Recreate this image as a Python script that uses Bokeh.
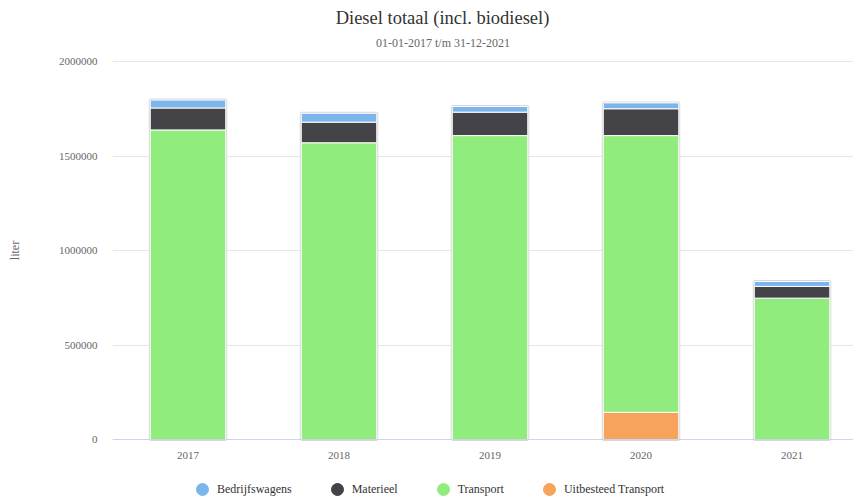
import numpy as np
from bokeh.plotting import figure
from bokeh.models import (Range1d, FixedTicker, NumeralTickFormatter, Label,
                          Legend, LegendItem, ColumnDataSource)
from bokeh.embed import file_html
from bokeh.resources import INLINE

# ---- data ----
years = ["2017", "2018", "2019", "2020", "2021"]
bedrijfswagens = [42000, 47000, 30000, 31000, 26000]
materieel = [116000, 109000, 124000, 142000, 62000]
transport = [1638000, 1570000, 1608000, 1464000, 748000]
uitbesteed = [0, 0, 0, 144000, 0]

series_names = ["Bedrijfswagens", "Materieel", "Transport", "Uitbesteed Transport"]
series_colors = ["#7cb5ec", "#434348", "#90ed7d", "#f7a35c"]
y_ticks = [0, 500000, 1000000, 1500000, 2000000]

title_text = "Diesel totaal (incl. biodiesel)"
subtitle_text = "01-01-2017 t/m 31-12-2021"
y_label = "liter"

FONT = "Liberation Serif"

x = list(range(len(years)))
src = ColumnDataSource(dict(
    x=x,
    b=bedrijfswagens, m=materieel, t=transport, u=uitbesteed,
    total=list(np.array(bedrijfswagens) + np.array(materieel) + np.array(transport) + np.array(uitbesteed)),
))

# frame spans y=3..497 so the axis title is centred at y=250; value 0 at y=439, 2e6 at y=61
y_max = 2000000
px_per_unit = (439 - 61) / y_max
y_lo = -(497 - 439) / px_per_unit
y_hi = y_max + (61 - 3) / px_per_unit

p = figure(width=853, height=497, output_backend="svg", toolbar_location=None,
           x_range=Range1d(-0.5, 4.407), y_range=Range1d(y_lo, y_hi),
           min_border_left=112, min_border_right=0, min_border_top=3,
           min_border_bottom=0, background_fill_color="white",
           border_fill_color="white", outline_line_color=None)

# outline shadow behind stacks
p.vbar(x="x", top="total", bottom=0, width=0.5, source=src, fill_color=None,
       line_color="#d8d8d8", line_width=3)

stack_keys = ["u", "t", "m", "b"]
stack_colors = [series_colors[3], series_colors[2], series_colors[1], series_colors[0]]
p.vbar_stack(stack_keys, x="x", width=0.5, source=src, color=stack_colors,
             line_color="white", line_width=1)

# grid / axes
p.xgrid.grid_line_color = None
p.ygrid.grid_line_color = "#e6e6e6"
p.ygrid.ticker = FixedTicker(ticks=y_ticks)

p.yaxis.ticker = FixedTicker(ticks=y_ticks)
p.yaxis.formatter = NumeralTickFormatter(format="0")
p.yaxis.axis_line_color = None
p.yaxis.major_tick_line_color = None
p.yaxis.minor_tick_line_color = None
p.yaxis.major_tick_out = 0
p.yaxis.major_tick_in = 0
p.yaxis.major_label_standoff = 15
p.yaxis.major_label_text_font = FONT
p.yaxis.major_label_text_font_size = "11px"
p.yaxis.major_label_text_color = "#666666"
p.yaxis.axis_label = y_label
p.yaxis.axis_label_text_font = FONT
p.yaxis.axis_label_text_font_size = "12px"
p.yaxis.axis_label_text_font_style = "normal"
p.yaxis.axis_label_text_color = "#666666"
p.yaxis.axis_label_standoff = 34

p.xaxis.fixed_location = 0
p.xaxis.ticker = FixedTicker(ticks=x)
p.xaxis.major_label_overrides = {i: y for i, y in zip(x, years)}
p.xaxis.axis_line_color = "#ccd6eb"
p.xaxis.major_tick_line_color = None
p.xaxis.minor_tick_line_color = None
p.xaxis.major_tick_out = 0
p.xaxis.major_tick_in = 0
p.xaxis.major_label_standoff = 12
p.xaxis.major_label_text_font = FONT
p.xaxis.major_label_text_font_size = "11px"
p.xaxis.major_label_text_color = "#666666"

# titles (screen units, relative to the frame's bottom-left corner)
p.add_layout(Label(x=330, y=480, x_units="screen", y_units="screen", text=title_text,
                   text_align="center", text_baseline="middle", text_font=FONT,
                   text_font_size="18.5px", text_color="#333333"))
p.add_layout(Label(x=330.5, y=455, x_units="screen", y_units="screen", text=subtitle_text,
                   text_align="center", text_baseline="middle", text_font=FONT,
                   text_font_size="12px", text_color="#666666"))

# legend with circle markers (proxy renderers that draw nothing in the plot)
items = []
for name, col in zip(series_names, series_colors):
    r = p.scatter(x=[np.nan], y=[np.nan], marker="circle", size=12,
                  fill_color=col, line_color=col)
    items.append(LegendItem(label=name, renderers=[r], index=0))

legend = Legend(items=items, orientation="horizontal", location=(75, -7),
                padding=0, margin=0, spacing=30, glyph_width=30, glyph_height=30,
                label_standoff=-1, label_text_font=FONT, label_text_font_size="12px",
                label_text_color="#333333", border_line_color=None,
                background_fill_alpha=0)
p.add_layout(legend, "center")

open("out.html", "w").write(file_html(p, INLINE))
